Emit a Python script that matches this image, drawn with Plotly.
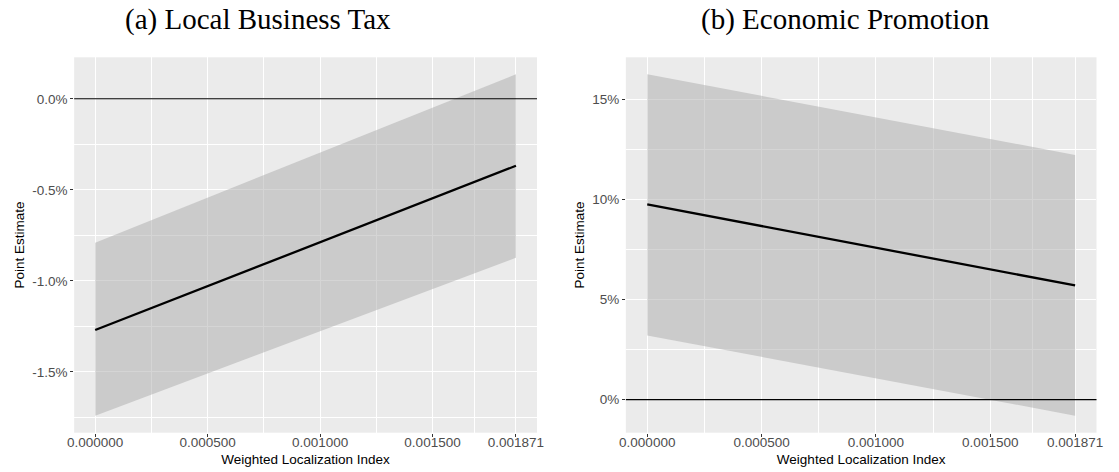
import plotly.graph_objects as go

# Marginal effect of the weighted localization index, with confidence bands
x_index = [0.0, 0.001871]

tax_est = [-0.01270, -0.00368]
tax_lo = [-0.01740, -0.00873]
tax_hi = [-0.00790, 0.00134]

promo_est = [0.0977, 0.0571]
promo_lo = [0.0321, -0.0080]
promo_hi = [0.1627, 0.1224]

panel_titles = ["(a) Local Business Tax", "(b) Economic Promotion"]
x_title = "Weighted Localization Index"
y_title = "Point Estimate"

x_tickvals = [0.0, 0.0005, 0.001, 0.0015, 0.001871]
x_ticktext = ["0.000000", "0.000500", "0.001000", "0.001500", "0.001871"]
x_minor = [0.00025, 0.00075, 0.00125, 0.0016855]

tax_tickvals = [0.0, -0.005, -0.010, -0.015]
tax_ticktext = ["0.0%", "-0.5%", "-1.0%", "-1.5%"]
tax_minor = [-0.0025, -0.0075, -0.0125, -0.0175]

promo_tickvals = [0.0, 0.05, 0.10, 0.15]
promo_ticktext = ["0%", "5%", "10%", "15%"]
promo_minor = [0.025, 0.075, 0.125]

W, H = 1119, 472
PANEL_BG = "#EBEBEB"
BAND = "rgba(171,171,171,0.5)"
TICK_FONT = dict(family="Liberation Sans, Arial, sans-serif", size=13.5, color="#4D4D4D")
TITLE_FONT = dict(family="Liberation Sans, Arial, sans-serif", size=13.5, color="black")


def expand(lo, hi, frac=0.05):
    span = hi - lo
    return [lo - frac * span, hi + frac * span]


fig = go.Figure()

panels = [
    ("x", "y", tax_est, tax_lo, tax_hi),
    ("x2", "y2", promo_est, promo_lo, promo_hi),
]
for xa, ya, est, lo, hi in panels:
    fig.add_trace(go.Scatter(
        x=x_index + x_index[::-1], y=hi + lo[::-1],
        fill="toself", fillcolor=BAND, line=dict(width=0),
        mode="lines", hoverinfo="skip", showlegend=False,
        xaxis=xa, yaxis=ya,
    ))
    fig.add_trace(go.Scatter(
        x=x_index, y=est, mode="lines",
        line=dict(color="black", width=2.3),
        showlegend=False, xaxis=xa, yaxis=ya,
    ))
    # horizontal reference line at zero, over the band
    fig.add_shape(type="line", xref=f"{xa} domain", yref=ya,
                  x0=0, x1=1, y0=0, y1=0,
                  line=dict(color="black", width=1.1), layer="above")

x_range = expand(min(x_index), max(x_index))
y_dom = [(H - 432.7) / H, (H - 57.3) / H]


def xaxis(domain):
    return dict(
        domain=domain, range=x_range,
        tickmode="array", tickvals=x_tickvals, ticktext=x_ticktext,
        ticks="outside", ticklen=3, tickwidth=1, tickcolor="#333333",
        tickfont=TICK_FONT, ticklabelstandoff=-6,
        showgrid=True, gridcolor="white", gridwidth=1.1,
        zeroline=False, showline=False,
        minor=dict(tickmode="array", tickvals=x_minor, showgrid=True,
                   gridcolor="white", gridwidth=0.55, ticks=""),
        title=dict(text=x_title, font=TITLE_FONT, standoff=5),
    )


def yaxis(anchor, tickvals, ticktext, minor, rng):
    return dict(
        domain=y_dom, anchor=anchor, range=rng,
        tickmode="array", tickvals=tickvals, ticktext=ticktext,
        ticks="outside", ticklen=3, tickwidth=1, tickcolor="#333333",
        tickfont=TICK_FONT, showgrid=True, gridcolor="white", gridwidth=1.1,
        zeroline=False, showline=False,
        minor=dict(tickmode="array", tickvals=minor, showgrid=True,
                   gridcolor="white", gridwidth=0.55, ticks=""),
        title=dict(text=y_title, font=TITLE_FONT, standoff=4),
    )


fig.update_layout(
    width=W, height=H,
    margin=dict(l=0, r=0, t=0, b=0),
    paper_bgcolor="white", plot_bgcolor=PANEL_BG,
    xaxis=dict(xaxis([68.0 / W, 536.7 / W]), anchor="y"),
    xaxis2=dict(xaxis([626.7 / W, 1103.3 / W]), anchor="y2"),
    yaxis=yaxis("x", tax_tickvals, tax_ticktext, tax_minor,
                expand(min(tax_lo), max(tax_hi))),
    yaxis2=yaxis("x2", promo_tickvals, promo_ticktext, promo_minor,
                 expand(min(promo_lo), max(promo_hi))),
)

# Panel headings in a serif face
for text, cx in zip(panel_titles, [254, 849]):
    fig.add_annotation(
        text=text, xref="paper", yref="paper",
        x=cx / W, y=(H - 19) / H, xanchor="center", yanchor="middle",
        showarrow=False,
        font=dict(family="Liberation Serif, Times New Roman, serif",
                  size=29, color="black"),
    )

fig.write_html("out.html")
